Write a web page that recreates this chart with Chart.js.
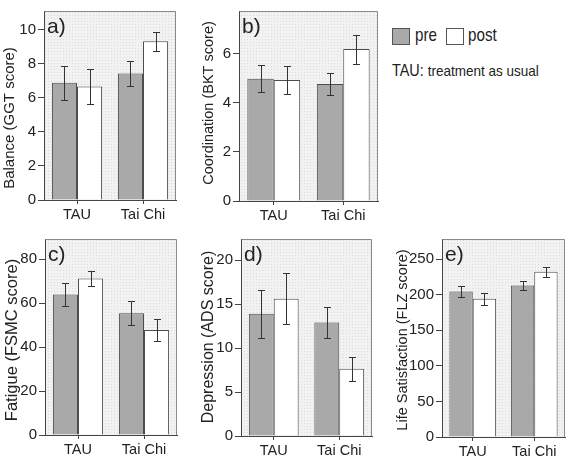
<!DOCTYPE html>
<html>
<head>
<meta charset="utf-8">
<script src="https://cdn.jsdelivr.net/npm/chart.js@4.4.1/dist/chart.umd.min.js"></script>
<style>
  body { margin: 0; background: #fff; width: 567px; height: 458px; position: relative; overflow: hidden;
         font-family: 'Liberation Sans', Arial, sans-serif; color: #222; }
  canvas { position: absolute; }
  .box { position: absolute; width: 16px; height: 15px; border: 1px solid #555; }
  .txt { position: absolute; white-space: nowrap; line-height: 1; transform-origin: 0 0; }
</style>
</head>
<body>
<canvas id="a" width="180" height="228" style="left:0;top:0"></canvas>
<canvas id="b" width="192" height="228" style="left:190px;top:0"></canvas>
<canvas id="c" width="180" height="230" style="left:0;top:228px"></canvas>
<canvas id="d" width="188" height="230" style="left:190px;top:228px"></canvas>
<canvas id="e" width="185" height="230" style="left:382px;top:228px"></canvas>

<div class="box" style="left:392px;top:28px;background:#a9a9a9"></div>
<div class="txt" style="left:415px;top:25px;font-size:19px;transform:scaleX(0.8)">pre</div>
<div class="box" style="left:446px;top:28px;background:#fff"></div>
<div class="txt" style="left:468px;top:25px;font-size:19px;transform:scaleX(0.8)">post</div>
<div class="txt" style="left:392px;top:63px;font-size:16px;transform:scaleX(0.9)">TAU: <span style="font-size:15px">treatment as usual</span></div>

<script>
const groups = ['TAU', 'Tai Chi'];

const balancePre = [6.88, 7.43];
const balancePost = [6.67, 9.33];
const balancePreErr = [1.0, 0.72];
const balancePostErr = [1.03, 0.56];
const balanceTicks = [0, 2, 4, 6, 8, 10];

const coordPre = [4.97, 4.76];
const coordPost = [4.92, 6.18];
const coordPreErr = [0.55, 0.43];
const coordPostErr = [0.56, 0.59];
const coordTicks = [0, 2, 4, 6];

const fatiguePre = [63.9, 55.4];
const fatiguePost = [71.1, 47.7];
const fatiguePreErr = [5.3, 5.4];
const fatiguePostErr = [3.4, 5.0];
const fatigueTicks = [0, 20, 40, 60, 80];

const depressionPre = [13.9, 12.9];
const depressionPost = [15.6, 7.65];
const depressionPreErr = [2.75, 1.8];
const depressionPostErr = [2.9, 1.35];
const depressionTicks = [0, 5, 10, 15, 20];

const lifePre = [204.6, 213];
const lifePost = [194.5, 232.5];
const lifePreErr = [7.5, 6.3];
const lifePostErr = [8.4, 7];
const lifeTicks = [0, 50, 100, 150, 200, 250];

const sans = "'Liberation Sans', Arial, sans-serif";

// texture for plot background
function dotPattern(base, dot) {
  const c = document.createElement('canvas');
  c.width = 3; c.height = 3;
  const g = c.getContext('2d');
  g.fillStyle = base; g.fillRect(0, 0, 3, 3);
  g.fillStyle = dot; g.fillRect(0, 0, 1, 1);
  return c;
}

const plotBox = {
  id: 'plotBox',
  beforeDraw(chart) {
    const { ctx, chartArea: a } = chart;
    ctx.save();
    ctx.fillStyle = ctx.createPattern(dotPattern('#f2f2f2', '#dcdcdc'), 'repeat');
    ctx.fillRect(a.left, a.top, a.right - a.left, a.bottom - a.top);
    ctx.restore();
  },
  afterDraw(chart, args, o) {
    const { ctx, chartArea: a } = chart;
    ctx.save();
    ctx.strokeStyle = '#8a8a8a';
    ctx.lineWidth = 1;
    ctx.beginPath();
    ctx.moveTo(Math.round(a.left) + 0.5, Math.round(a.top) + 0.5);
    ctx.lineTo(Math.round(a.right) - 0.5, Math.round(a.top) + 0.5);
    ctx.lineTo(Math.round(a.right) - 0.5, Math.round(a.bottom));
    ctx.stroke();
    ctx.fillStyle = '#222';
    ctx.font = '21px ' + sans;
    ctx.textBaseline = 'alphabetic';
    ctx.fillText(o.letter, a.left + 3, a.top + 22);
    // rotated y-axis title
    ctx.translate(o.tx, o.ty);
    ctx.rotate(-Math.PI / 2);
    ctx.font = o.tsize + 'px ' + sans;
    ctx.textAlign = 'center';
    ctx.textBaseline = 'middle';
    ctx.fillText(o.title, 0, 0);
    ctx.restore();
  }
};

const errorBars = {
  id: 'errorBars',
  afterDatasetsDraw(chart) {
    const ctx = chart.ctx, y = chart.scales.y;
    ctx.save();
    ctx.strokeStyle = '#333';
    ctx.lineWidth = 1;
    chart.data.datasets.forEach((ds, i) => {
      chart.getDatasetMeta(i).data.forEach((bar, j) => {
        const v = ds.data[j], e = ds.errors[j];
        const x = Math.round(bar.x) + 0.5;
        const top = Math.round(y.getPixelForValue(v + e)) + 0.5;
        const bot = Math.round(y.getPixelForValue(v - e)) + 0.5;
        ctx.beginPath();
        ctx.moveTo(x, top); ctx.lineTo(x, bot);
        ctx.moveTo(x - 3.5, top); ctx.lineTo(x + 3.5, top);
        ctx.moveTo(x - 3.5, bot); ctx.lineTo(x + 3.5, bot);
        ctx.stroke();
      });
    });
    ctx.restore();
  }
};

const panels = [
  { id: 'a', letter: 'a)', title: 'Balance (GGT score)', tsize: 15, tx: 10, ty: 118,
    pre: balancePre, post: balancePost, preErr: balancePreErr, postErr: balancePostErr,
    ticks: balanceTicks, max: 11.1, yw: 44, pt: 1, pr: 4, xh: 28 },
  { id: 'b', letter: 'b)', title: 'Coordination (BKT score)', tsize: 14.5, tx: 19, ty: 103,
    pre: coordPre, post: coordPost, preErr: coordPreErr, postErr: coordPostErr,
    ticks: coordTicks, max: 7.73, yw: 49, pt: 2, pr: 4, xh: 27 },
  { id: 'c', letter: 'c)', title: 'Fatigue (FSMC score)', tsize: 16.5, tx: 12, ty: 112,
    pre: fatiguePre, post: fatiguePost, preErr: fatiguePreErr, postErr: fatiguePostErr,
    ticks: fatigueTicks, max: 89.1, yw: 45, pt: 9, pr: 3, xh: 23 },
  { id: 'd', letter: 'd)', title: 'Depression (ADS score)', tsize: 16, tx: 19, ty: 109,
    pre: depressionPre, post: depressionPost, preErr: depressionPreErr, postErr: depressionPostErr,
    ticks: depressionTicks, max: 22.4, yw: 51, pt: 9, pr: 6, xh: 22 },
  { id: 'e', letter: 'e)', title: 'Life Satisfaction (FLZ score)', tsize: 14.5, tx: 20.5, ty: 112,
    pre: lifePre, post: lifePost, preErr: lifePreErr, postErr: lifePostErr,
    ticks: lifeTicks, max: 278.5, yw: 60, pt: 10, pr: 2, xh: 21 }
];

panels.forEach(p => {
  new Chart(document.getElementById(p.id), {
    type: 'bar',
    data: {
      labels: groups,
      datasets: [
        { label: 'pre', data: p.pre, errors: p.preErr, backgroundColor: '#a9a9a9', borderColor: '#4d4d4d', borderWidth: 1 },
        { label: 'post', data: p.post, errors: p.postErr, backgroundColor: '#ffffff', borderColor: '#4d4d4d', borderWidth: 1 }
      ]
    },
    options: {
      responsive: false,
      animation: false,
      devicePixelRatio: 1,
      layout: { padding: { top: p.pt, right: p.pr, left: 0, bottom: 0 } },
      datasets: { bar: { categoryPercentage: 0.76, barPercentage: 1 } },
      plugins: {
        legend: { display: false },
        tooltip: { enabled: false },
        plotBox: { letter: p.letter, title: p.title, tsize: p.tsize, tx: p.tx, ty: p.ty }
      },
      scales: {
        x: {
          grid: { drawOnChartArea: false, offset: false, tickLength: 4, color: '#444' },
          border: { color: '#444' },
          ticks: { font: { family: sans, size: 14.5 }, color: '#222', padding: 2, maxRotation: 0 },
          afterFit: s => { s.height = p.xh; }
        },
        y: {
          min: 0, max: p.max,
          grid: { drawOnChartArea: false, tickLength: 6, color: '#444' },
          border: { color: '#444' },
          ticks: { font: { family: sans, size: 15 }, color: '#222', padding: 2 },
          afterBuildTicks: s => { s.ticks = p.ticks.map(v => ({ value: v })); },
          afterFit: s => { s.width = p.yw; }
        }
      }
    },
    plugins: [plotBox, errorBars]
  });
});
</script>
</body>
</html>
